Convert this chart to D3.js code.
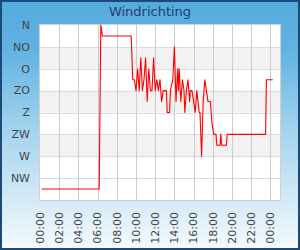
<!DOCTYPE html>
<html>
<head>
<meta charset="utf-8">
<script src="https://d3js.org/d3.v7.min.js"></script>
<style>
  body { margin: 0; padding: 0; overflow: hidden; }
  svg { display: block; }
</style>
</head>
<body>
<div id="chart"></div>
<script>
// Wind direction per time of day (degrees, 0 = N, clockwise)
const times = [
    '00:10', '06:10', '06:20', '06:30', '09:30', '09:40', '09:50', '10:00', '10:10', '10:20',
    '10:30', '10:40', '10:50', '11:00', '11:10', '11:20', '11:30', '11:40', '11:50', '12:00',
    '12:10', '12:20', '12:30', '12:40', '12:50', '13:10', '13:15', '13:30', '13:35', '13:50',
    '14:00', '14:10', '14:20', '14:25', '14:30', '14:40', '14:50', '15:00', '15:05', '15:15',
    '15:25', '15:35', '15:40', '15:50', '16:10', '16:20', '16:35', '16:40', '16:50', '17:00',
    '17:10', '17:20', '17:30', '17:45', '17:55', '18:05', '18:20', '18:25', '18:45', '18:50',
    '18:55', '19:25', '19:30', '23:30', '23:35', '24:15'
];
const directions = [
    337.5, 337.5, 0, 22.5, 22.5, 112.5, 112.5, 135, 90, 135,
    67.5, 135, 112.5, 67.5, 157.5, 90, 135, 135, 67.5, 135,
    112.5, 135, 112.5, 157.5, 135, 135, 180, 180, 135, 112.5,
    45, 157.5, 90, 135, 90, 157.5, 112.5, 135, 180, 135,
    112.5, 157.5, 135, 135, 180, 135, 180, 180, 270, 157.5,
    112.5, 135, 157.5, 157.5, 202.5, 225, 225, 247.5, 247.5, 225,
    247.5, 247.5, 225, 225, 112.5, 112.5
];

const yTicks = [0, 45, 90, 135, 180, 225, 270, 315];
const yLabels = ['N', 'NO', 'O', 'ZO', 'Z', 'ZW', 'W', 'NW'];
const xTickHours = [0, 2, 4, 6, 8, 10, 12, 14, 16, 18, 20, 22, 24];

const width = 300, height = 250;
const margin = {top: 25, right: 20, bottom: 50, left: 40};
const plotW = width - margin.left - margin.right;
const plotH = height - margin.top - margin.bottom;

const day = new Date(2000, 0, 1);
function toDate(str) {
    const [h, m] = str.split(':').map(Number);
    return new Date(day.getTime() + (h * 60 + m) * 60000);
}
const data = times.map((t, i) => ({ t: toDate(t), v: directions[i] }));

const x = d3.scaleTime()
    .domain([day, new Date(day.getTime() + 25 * 3600000)])
    .range([0, plotW]);
const y = d3.scaleLinear()
    .domain([0, 360])
    .range([0, plotH]);

const svg = d3.select('#chart')
    .append('svg')
    .attr('width', width)
    .attr('height', height);

// Background gradient
const defs = svg.append('defs');
const bg = defs.append('linearGradient')
    .attr('id', 'bg')
    .attr('x1', 0).attr('y1', 0).attr('x2', 0).attr('y2', 1);
bg.append('stop').attr('offset', '0%').attr('stop-color', '#55aadd');
bg.append('stop').attr('offset', '20%').attr('stop-color', '#62b3e2');
bg.append('stop').attr('offset', '55%').attr('stop-color', '#a9d6ef');
bg.append('stop').attr('offset', '100%').attr('stop-color', '#f5fafd');

svg.append('rect')
    .attr('x', 1).attr('y', 1)
    .attr('width', width - 2).attr('height', height - 2)
    .attr('fill', 'url(#bg)')
    .attr('stroke', '#1b4a78')
    .attr('stroke-width', 2);

// Title
svg.append('text')
    .attr('x', width / 2)
    .attr('y', 16)
    .attr('text-anchor', 'middle')
    .style('font-family', 'DejaVu Sans, sans-serif')
    .style('font-size', '13px')
    .style('fill', '#1f3f6d')
    .text('Windrichting');

const g = svg.append('g')
    .attr('transform', `translate(${margin.left},${margin.top})`);

// Plot background
g.append('rect')
    .attr('width', plotW)
    .attr('height', plotH)
    .attr('fill', '#fff');

// Alternate bands
for (let i = 1; i < yTicks.length - 1; i += 2) {
    g.append('rect')
        .attr('x', 0)
        .attr('y', y(yTicks[i]))
        .attr('width', plotW)
        .attr('height', y(yTicks[i + 1]) - y(yTicks[i]))
        .attr('fill', '#f2f2f2');
}

const crisp = v => Math.round(v) + 0.5;

// Horizontal grid
g.selectAll('.hgrid')
    .data(yTicks.slice(1))
    .join('line')
    .attr('x1', 0).attr('x2', plotW)
    .attr('y1', d => crisp(y(d))).attr('y2', d => crisp(y(d)))
    .attr('stroke', '#dcdcdc')
    .attr('stroke-width', 1);

// Vertical grid
const xTicks = xTickHours.map(h => new Date(day.getTime() + h * 3600000));
g.selectAll('.vgrid')
    .data(xTicks.slice(1))
    .join('line')
    .attr('y1', 0).attr('y2', plotH)
    .attr('x1', d => crisp(x(d))).attr('x2', d => crisp(x(d)))
    .attr('stroke', '#cccccc')
    .attr('stroke-width', 1);

// Plot border
g.append('rect')
    .attr('x', -0.5).attr('y', -0.5)
    .attr('width', plotW + 1).attr('height', plotH + 1)
    .attr('fill', 'none')
    .attr('stroke', '#d0d0d0')
    .attr('stroke-width', 1);

// Line
const line = d3.line()
    .x(d => x(d.t))
    .y(d => y(d.v));

g.append('path')
    .datum(data)
    .attr('d', line)
    .attr('fill', 'none')
    .attr('stroke', '#ff0000')
    .attr('stroke-width', 1.1)
    .attr('stroke-linejoin', 'round');

// Y labels
g.selectAll('.ylab')
    .data(yTicks)
    .join('text')
    .attr('x', -10)
    .attr('y', d => y(d))
    .attr('dy', '0.35em')
    .attr('text-anchor', 'end')
    .style('font-family', 'DejaVu Sans, sans-serif')
    .style('font-size', '11px')
    .style('fill', '#444')
    .text((d, i) => yLabels[i]);

// X labels (rotated)
const fmt = d3.timeFormat('%H:%M');
g.selectAll('.xlab')
    .data(xTicks)
    .join('text')
    .attr('transform', d => `translate(${x(d)},${plotH + 12}) rotate(-90)`)
    .attr('dy', '0.35em')
    .attr('text-anchor', 'end')
    .style('font-family', 'DejaVu Sans, sans-serif')
    .style('font-size', '11px')
    .style('fill', '#444')
    .text(d => fmt(d));
</script>
</body>
</html>
